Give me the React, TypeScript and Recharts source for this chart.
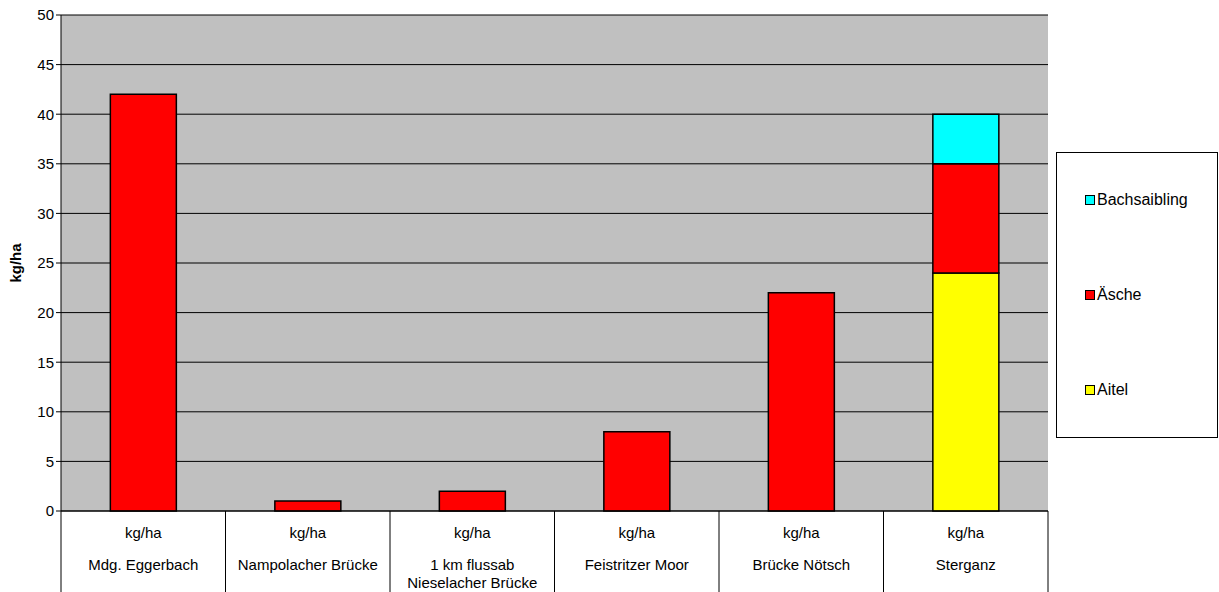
import { Bar, BarChart, CartesianGrid, XAxis, YAxis } from 'recharts';

const sites = [
  'Mdg. Eggerbach',
  'Nampolacher Brücke',
  '1 km flussab\nNieselacher Brücke',
  'Feistritzer Moor',
  'Brücke Nötsch',
  'Sterganz',
];
const aitel = [null, null, null, null, null, 24];
const aesche = [42, 1, 2, 8, 22, 11];
const bachsaibling = [null, null, null, null, null, 5];
const yTicks = [0, 5, 10, 15, 20, 25, 30, 35, 40, 45, 50];

const series = [
  { key: 'Aitel', values: aitel, color: '#FFFF00' },
  { key: 'Äsche', values: aesche, color: '#FF0000' },
  { key: 'Bachsaibling', values: bachsaibling, color: '#00FFFF' },
];

const data = sites.map((site, i) => {
  const row: Record<string, string | number | null> = { site };
  series.forEach((s) => {
    row[s.key] = s.values[i];
  });
  return row;
});

const W = 1219;
const H = 592;
const MARGIN = { top: 15, right: 171, left: 11, bottom: 0 };
const Y_AXIS_W = 50;
const X_AXIS_H = 81;
const PLOT_LEFT = MARGIN.left + Y_AXIS_W;
const PLOT_RIGHT = W - MARGIN.right;
const PLOT_BOTTOM = H - X_AXIS_H;
const BAND = (PLOT_RIGHT - PLOT_LEFT) / sites.length;
const FONT = '"Liberation Sans", Arial, sans-serif';

// two-row category label with table-style dividers below the axis
function SiteTick(props: any) {
  const { x, payload, index } = props;
  const lines = String(payload.value).split('\n');
  const left = x - BAND / 2;
  const right = x + BAND / 2;
  return (
    <g>
      <line x1={left} y1={PLOT_BOTTOM} x2={left} y2={H} stroke="#000" />
      {index === sites.length - 1 && (
        <line x1={right} y1={PLOT_BOTTOM} x2={right} y2={H} stroke="#000" />
      )}
      <text x={x} y={PLOT_BOTTOM + 27} textAnchor="middle" fontSize={15} fill="#000" fontFamily={FONT}>
        kg/ha
      </text>
      {lines.map((line, i) => (
        <text
          key={i}
          x={x}
          y={PLOT_BOTTOM + 59 + i * 18}
          textAnchor="middle"
          fontSize={15}
          fill="#000"
          fontFamily={FONT}
        >
          {line}
        </text>
      ))}
    </g>
  );
}

function AxisTitle(props: any) {
  const { viewBox } = props;
  const cx = 21;
  const cy = viewBox.y + viewBox.height / 2;
  return (
    <text
      x={cx}
      y={cy}
      transform={`rotate(-90, ${cx}, ${cy})`}
      textAnchor="middle"
      fontSize={15}
      fontWeight="bold"
      fill="#000"
      fontFamily={FONT}
    >
      kg/ha
    </text>
  );
}

// legend box beside the plot, series listed top to bottom like the stack
function LegendBox() {
  const items = [...series].reverse();
  return (
    <div
      style={{
        position: 'absolute',
        left: 1056,
        top: 152,
        width: 160,
        height: 284,
        border: '1px solid #000',
        background: '#fff',
        fontFamily: FONT,
        fontSize: 16,
      }}
    >
      {items.map((s, i) => (
        <div
          key={s.key}
          style={{
            position: 'absolute',
            left: 28,
            top: 38 + i * 95,
            display: 'flex',
            alignItems: 'center',
            lineHeight: '18px',
          }}
        >
          <span
            style={{
              display: 'inline-block',
              width: 8,
              height: 8,
              background: s.color,
              border: '1.5px solid #000',
              marginRight: 2,
            }}
          />
          {s.key}
        </div>
      ))}
    </div>
  );
}

export default function App() {
  return (
    <div style={{ position: 'absolute', left: 0, top: 0, width: W, height: H, background: '#fff' }}>
      <BarChart width={W} height={H} data={data} margin={MARGIN} barCategoryGap="30%">
        <CartesianGrid vertical={false} fill="#C0C0C0" stroke="#000" />
        <XAxis
          dataKey="site"
          height={X_AXIS_H}
          tickLine={false}
          axisLine={{ stroke: '#000' }}
          tick={<SiteTick />}
          interval={0}
        />
        <YAxis
          width={Y_AXIS_W}
          domain={[0, 50]}
          ticks={yTicks}
          interval={0}
          tick={{ fill: '#000', fontSize: 15, fontFamily: FONT }}
          tickLine={{ stroke: '#000' }}
          tickSize={5}
          axisLine={{ stroke: '#000' }}
          label={<AxisTitle />}
        />
        <YAxis
          yAxisId="right"
          orientation="right"
          width={0}
          domain={[0, 50]}
          tick={false}
          tickLine={false}
          axisLine={{ stroke: '#808080' }}
        />
        {series.map((s) => (
          <Bar
            key={s.key}
            dataKey={s.key}
            stackId="a"
            fill={s.color}
            stroke="#000"
            strokeWidth={1.5}
            isAnimationActive={false}
          />
        ))}
      </BarChart>
      <LegendBox />
    </div>
  );
}
